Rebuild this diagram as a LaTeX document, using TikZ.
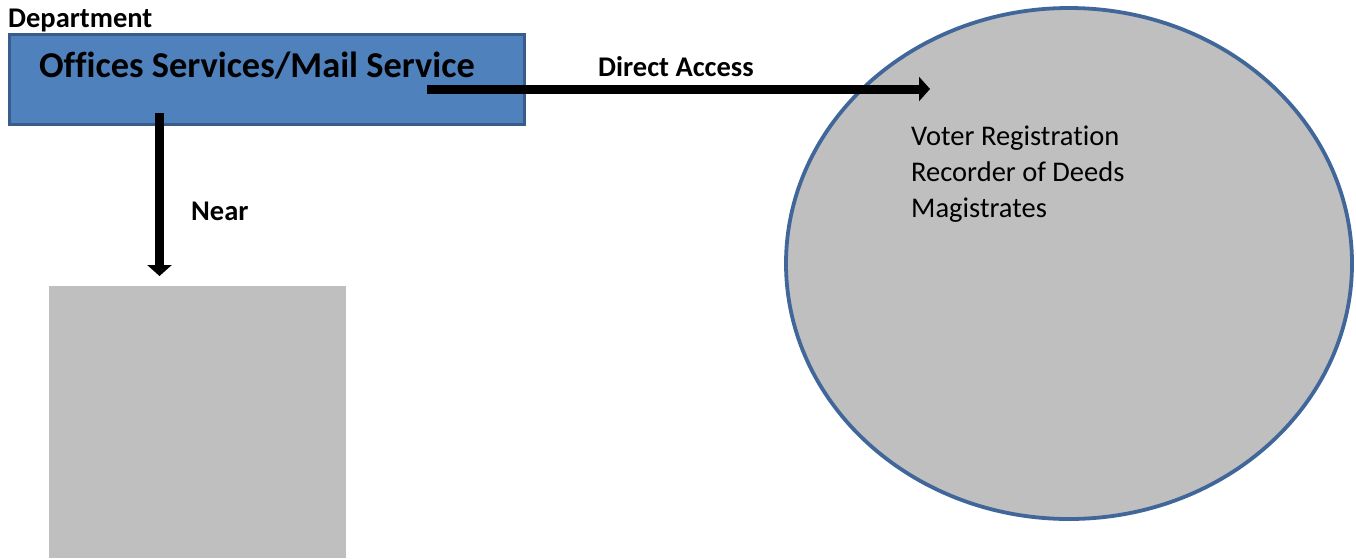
\documentclass[tikz,border=0pt]{standalone}
\usepackage{fontspec}
\setmainfont[Ligatures={NoCommon}]{Carlito}
\usetikzlibrary{arrows.meta,shapes.geometric}
\definecolor{boxblue}{HTML}{4F81BD}
\definecolor{boxedge}{HTML}{385D8A}
\definecolor{ringedge}{HTML}{41679A}
\definecolor{shade}{HTML}{BFBFBF}
\tikzset{
  lbl/.style={font=\fontsize{28.5}{34}\selectfont\bfseries, inner sep=0pt, anchor=base},
  itemtxt/.style={font=\fontsize{28.5}{34}\selectfont, inner sep=0pt, anchor=base west},
  bigarrow/.style={line width=9pt, -{Triangle[length=11pt,width=24pt]}}
}
\begin{document}
\begin{tikzpicture}[x=1pt,y=-1pt]
\useasboundingbox (0,0) rectangle (1356,558);
% department box
\node[draw=boxedge, fill=boxblue, line width=3pt, minimum width=515pt, minimum height=90pt, inner sep=0pt, anchor=north west] (dept) at (8,33) {};
\node[inner sep=0pt, anchor=base, font=\fontsize{36.4}{40}\selectfont\bfseries] (title) at (257,77) {Offices Services/Mail Service};
\node[lbl, anchor=base west] (deptlbl) at (8,27) {Department};
% ellipse
\node[ellipse, draw=ringedge, fill=shade, line width=3.8pt, minimum width=566pt, minimum height=511pt, inner sep=0pt] (ring) at (1069,263.5) {};
\node[itemtxt] (v1) at (911,145) {Voter Registration};
\node[itemtxt] (v2) at (911,181) {Recorder of Deeds};
\node[itemtxt] (v3) at (911,217) {Magistrates};
% gray block
\node[fill=shade, minimum width=297pt, minimum height=272pt, inner sep=0pt, anchor=north west] (block) at (49,286) {};
% connectors
\coordinate (s1) at (427,89);
\coordinate (e1) at (930,89);
\coordinate (s2) at (159.5,113);
\coordinate (e2) at (159.5,276);
\draw[bigarrow] (s1) -- (e1);
\draw[bigarrow] (s2) -- (e2);
\node[lbl] (da) at (676,76) {Direct Access};
\node[lbl, anchor=base west] (near) at (191,220) {Near};
\end{tikzpicture}
\end{document}
